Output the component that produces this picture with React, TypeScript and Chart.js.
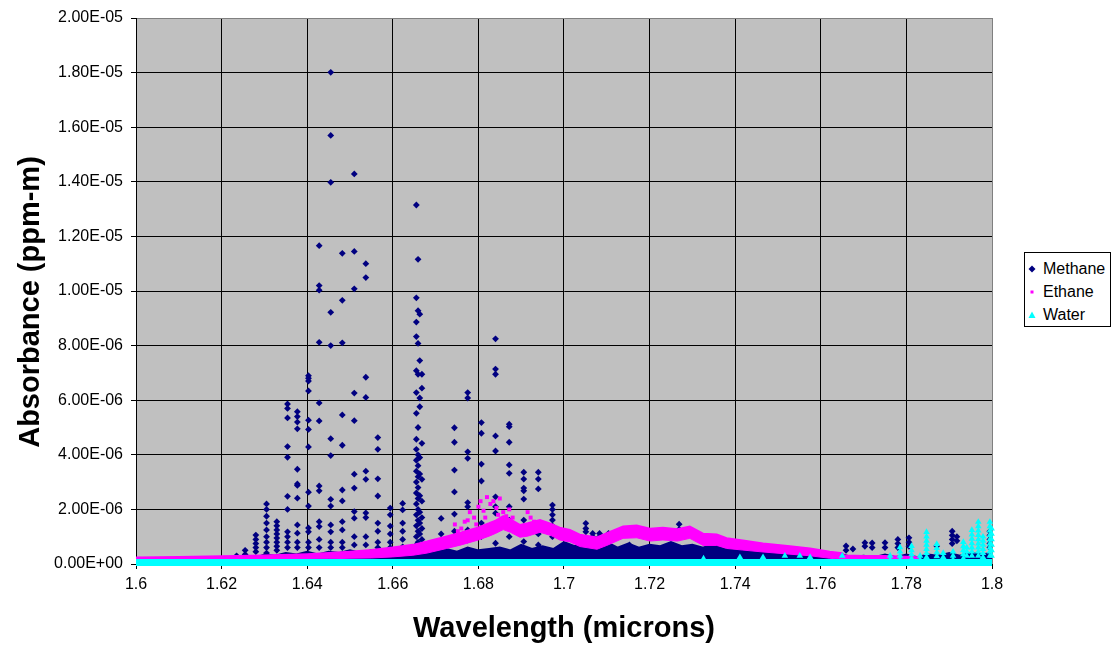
import React, { useEffect, useRef } from 'react';
import { Chart, registerables } from 'chart.js';

Chart.register(...registerables);

// ---------- axis ticks ----------
const xTickValues = [1.6, 1.62, 1.64, 1.66, 1.68, 1.7, 1.72, 1.74, 1.76, 1.78, 1.8];
const xTickLabels = ['1.6', '1.62', '1.64', '1.66', '1.68', '1.7', '1.72', '1.74', '1.76', '1.78', '1.8'];
// y values are in units of 1E-06
const yTickValues = [0, 2, 4, 6, 8, 10, 12, 14, 16, 18, 20];
const yTickLabels = ['0.00E+00', '2.00E-06', '4.00E-06', '6.00E-06', '8.00E-06', '1.00E-05', '1.20E-05', '1.40E-05', '1.60E-05', '1.80E-05', '2.00E-05'];

const xTitle = 'Wavelength (microns)';
const yTitle = 'Absorbance (ppm-m)';
const seriesNames = ['Methane', 'Ethane', 'Water'];

// ---------- Methane: individual line markers (wavelength, stacked absorbances x1E-06) ----------
const methaneLineWl = [
  1.6235, 1.6255, 1.6280, 1.6305, 1.6329, 1.6354, 1.6377, 1.6403, 1.6428, 1.6455, 1.6482, 1.6510, 1.6537, 1.6565, 1.6594, 1.6623,
  1.6655, 1.6659, 1.6663, 1.6668,
  1.6713, 1.6744, 1.6775, 1.6807, 1.6840, 1.6872, 1.6906, 1.6940, 1.6973,
  1.7051, 1.7067, 1.7083, 1.7104, 1.7153, 1.7269,
  1.7659, 1.7675, 1.7703, 1.7720, 1.7750, 1.7780, 1.7806, 1.7871, 1.7907, 1.7918, 1.7995,
];
const methaneLineAbs = [
  [0.3, 0.2],
  [0.5, 0.35],
  [1.06, 0.9, 0.75, 0.6, 0.45],
  [2.2, 2.0, 1.75, 1.5, 1.25, 1.0, 0.8, 0.6, 0.4],
  [1.55, 1.4, 1.25, 1.1, 0.95, 0.8, 0.65, 0.5],
  [5.86, 5.7, 5.35, 4.3, 3.91, 2.48, 2.0, 1.18, 1.0, 0.8, 0.6],
  [5.58, 5.4, 5.2, 4.95, 3.47, 2.93, 2.88, 2.41, 1.43, 1.13, 0.8, 0.6],
  [6.9, 6.8, 6.7, 6.34, 5.27, 4.93, 4.29, 2.63, 2.12, 1.32, 1.18, 0.8, 0.6],
  [11.66, 10.2, 10.03, 8.12, 5.9, 5.24, 2.86, 2.68, 1.55, 1.37, 0.9, 0.6],
  [18.01, 15.7, 13.98, 9.22, 8.0, 4.59, 3.97, 2.37, 2.12, 1.43, 1.18, 0.8, 0.6],
  [11.38, 9.66, 8.1, 5.46, 4.35, 2.71, 2.31, 1.55, 1.25, 0.8, 0.6],
  [14.29, 11.45, 10.08, 6.26, 5.25, 3.29, 2.78, 1.92, 1.68, 1.0, 0.7],
  [11.0, 10.49, 6.84, 6.1, 3.4, 3.1, 1.87, 1.7, 1.0, 0.7],
  [4.63, 4.2, 3.12, 2.49, 1.5, 1.2, 0.8, 0.6],
  [2.05, 1.8, 1.39, 1.1, 0.8, 0.6],
  [2.22, 1.98, 1.5, 1.2, 0.9, 0.63],
  [13.15, 9.75, 8.86, 8.33, 7.08, 6.28, 5.52, 4.57, 4.2, 3.8, 3.4, 3.0, 2.6, 2.2, 1.8, 1.4, 1.0, 0.7],
  [11.16, 9.28, 8.08, 6.95, 5.0, 4.0, 3.6, 3.2, 2.8, 2.4, 2.0, 1.6, 1.2, 0.8],
  [9.15, 7.45, 6.08, 5.76, 3.9, 3.3, 2.5, 1.9, 1.5, 1.1],
  [6.95, 6.44, 4.42, 3.1, 2.3, 1.7, 1.3, 0.9],
  [1.67, 1.1, 0.7],
  [4.99, 4.46, 3.44, 2.64, 1.83, 1.2, 0.8],
  [6.28, 6.08, 4.11, 3.87, 2.25, 2.1, 1.25, 0.88],
  [5.18, 4.79, 3.66, 3.04, 1.5, 1.0],
  [8.25, 7.14, 6.95, 4.69, 4.14, 2.46, 2.1, 1.86, 0.76],
  [5.12, 5.03, 4.46, 3.63, 3.32, 2.1, 1.61, 1.0],
  [3.36, 3.11, 2.78, 2.68, 2.38, 1.61, 1.37, 0.82],
  [3.36, 3.11, 2.75, 1.37, 1.1, 0.7],
  [2.16, 2.0, 1.8, 1.61, 1.4, 1.2, 1.0],
  [1.49, 1.3, 1.18],
  [1.12, 1.0],
  [1.12, 1.0],
  [1.12],
  [0.7, 0.57],
  [1.46, 1.27],
  [0.66, 0.5],
  [0.55],
  [0.78, 0.65],
  [0.77, 0.6],
  [0.78, 0.6],
  [0.9, 0.75, 0.6],
  [0.96, 0.8, 0.65],
  [0.66],
  [1.2, 1.05, 0.9, 0.75],
  [1.0, 0.85],
  [1.2, 1.05, 0.9, 0.75, 0.6],
];

// ---------- Methane: dense low-level envelope (x1E-06) ----------
const methaneBaseWl = [
  1.600, 1.610, 1.615, 1.620, 1.6225, 1.625, 1.6275, 1.630, 1.6325, 1.635, 1.6375, 1.640, 1.6425, 1.645, 1.6475,
  1.650, 1.6525, 1.655, 1.6575, 1.660, 1.6625, 1.665, 1.6675, 1.670, 1.6725, 1.675, 1.6775, 1.680, 1.6825, 1.685,
  1.6875, 1.690, 1.6925, 1.695, 1.6975, 1.700, 1.7025, 1.705, 1.7075, 1.710, 1.7125, 1.715, 1.7175, 1.720, 1.7225,
  1.725, 1.7275, 1.730, 1.7325, 1.735, 1.7375, 1.740, 1.7425, 1.745, 1.7475, 1.750, 1.7525, 1.755, 1.7575, 1.760,
  1.7625, 1.765, 1.7675, 1.770, 1.7725, 1.775, 1.7775, 1.780, 1.7825, 1.785, 1.7875, 1.790, 1.7925, 1.795, 1.7975, 1.800,
];
const methaneBaseAbs = [
  0.00, 0.02, 0.05, 0.10, 0.15, 0.25, 0.20, 0.35, 0.30, 0.40, 0.35, 0.45, 0.35, 0.45, 0.40,
  0.50, 0.40, 0.50, 0.40, 0.50, 0.45, 0.60, 0.50, 0.45, 0.55, 0.45, 0.60, 0.50, 0.55, 0.60,
  0.50, 0.70, 0.55, 0.65, 0.55, 0.80, 0.65, 0.85, 0.70, 0.80, 0.60, 0.75, 0.60, 0.70, 0.65,
  0.80, 0.65, 0.70, 0.60, 0.75, 0.55, 0.60, 0.50, 0.55, 0.45, 0.55, 0.40, 0.50, 0.35, 0.40,
  0.30, 0.35, 0.25, 0.30, 0.25, 0.35, 0.25, 0.35, 0.25, 0.35, 0.30, 0.40, 0.30, 0.40, 0.35, 0.40,
];

// ---------- Ethane: band (lower / upper edges, x1E-06) ----------
const ethaneWl = [
  1.600, 1.610, 1.620, 1.630, 1.640, 1.645, 1.650, 1.655, 1.660, 1.6647, 1.668, 1.6726, 1.676, 1.680, 1.6825,
  1.684, 1.6858, 1.6875, 1.6897, 1.6915, 1.6944, 1.697, 1.699, 1.7014, 1.7037, 1.7077, 1.710, 1.7138, 1.717,
  1.7201, 1.7231, 1.7265, 1.7294, 1.7325, 1.7357, 1.738, 1.7418, 1.7465, 1.7528, 1.7575, 1.7621, 1.765, 1.7655,
  1.770, 1.775, 1.7832,
];
const ethaneLow = [
  0.12, 0.13, 0.14, 0.16, 0.18, 0.19, 0.21, 0.22, 0.26, 0.32, 0.40, 0.57, 0.70, 0.88, 1.02,
  1.12, 1.26, 1.16, 0.98, 1.02, 1.16, 1.04, 0.88, 0.81, 0.64, 0.54, 0.68, 0.94, 0.96,
  0.84, 0.88, 0.84, 0.94, 0.68, 0.68, 0.57, 0.51, 0.44, 0.36, 0.30, 0.21, 0.17, 0.14,
  0.13, 0.13, 0.12,
];
const ethaneHigh = [
  0.25, 0.27, 0.29, 0.32, 0.37, 0.41, 0.46, 0.52, 0.61, 0.71, 0.83, 1.02, 1.16, 1.35, 1.50,
  1.60, 1.76, 1.64, 1.44, 1.50, 1.62, 1.48, 1.34, 1.26, 1.08, 0.98, 1.14, 1.38, 1.42,
  1.30, 1.34, 1.28, 1.38, 1.12, 1.09, 0.95, 0.87, 0.76, 0.66, 0.58, 0.46, 0.40, 0.32,
  0.30, 0.30, 0.26,
];
// Ethane: scattered markers above the band
const ethanePointWl = [
  1.6745, 1.6752, 1.6760, 1.6768, 1.6775, 1.6780, 1.6790, 1.6795, 1.6800, 1.6805, 1.6812, 1.6816, 1.6820, 1.6828,
  1.6835, 1.6842, 1.6846, 1.6850, 1.6858, 1.6865, 1.6872, 1.6880, 1.6915, 1.6922, 1.6930,
];
const ethanePointAbs = [
  1.45, 1.20, 1.30, 1.55, 1.60, 1.90, 1.70, 1.45, 2.10, 2.30, 1.95, 1.70, 2.45, 2.20,
  2.30, 2.05, 1.80, 2.40, 1.90, 1.75, 2.00, 1.70, 1.90, 1.70, 1.55,
];

// ---------- Water: baseline and spikes (x1E-06) ----------
const waterBaseWl = [1.6, 1.8];
const waterBaseAbs = [0.055, 0.055];
const waterSpikeWl = [1.7326, 1.7411, 1.7465, 1.7516, 1.7551, 1.7575, 1.7650, 1.7762, 1.7785, 1.7812, 1.7832, 1.7847, 1.7871, 1.7886, 1.7909, 1.7933, 1.7941, 1.7953, 1.7968, 1.7979, 1.7995, 1.7999];
const waterSpikeAbs = [
  [0.2], [0.25], [0.25], [0.3], [0.3], [0.25], [0.3], [0.3, 0.15],
  [0.61, 0.45, 0.3, 0.15], [0.66, 0.5, 0.35, 0.2], [0.3, 0.15], [1.17, 1.0, 0.85, 0.7, 0.55, 0.4, 0.25],
  [0.73, 0.58, 0.43, 0.28], [0.4, 0.25], [0.45, 0.3, 0.15], [0.8, 0.65, 0.5, 0.35, 0.2], [0.6, 0.45, 0.3],
  [1.24, 1.08, 0.92, 0.76, 0.6, 0.45, 0.3], [1.54, 1.38, 1.22, 1.06, 0.9, 0.75, 0.6, 0.45, 0.3],
  [1.0, 0.85, 0.7, 0.55, 0.4, 0.25],
  [1.54, 1.38, 1.22, 1.06, 0.9, 0.75, 0.6, 0.45, 0.3], [1.3, 1.1, 0.9, 0.7, 0.5, 0.3],
];

const METHANE_COLOR = '#000080';
const ETHANE_COLOR = '#FF00FF';
const WATER_COLOR = '#00FFFF';
const FONT = '"Liberation Sans", Arial, sans-serif';

const stacks = (wl: number[], abs: number[][]) =>
  wl.flatMap((w, i) => abs[i].map((a) => ({ x: w, y: a })));
const pairs = (wl: number[], abs: number[]) => wl.map((w, i) => ({ x: w, y: abs[i] }));

const plotBackground = {
  id: 'plotBackground',
  beforeDraw(chart: any) {
    const { ctx, chartArea: a } = chart;
    ctx.save();
    ctx.fillStyle = '#C0C0C0';
    ctx.fillRect(a.left, a.top, a.right - a.left, a.bottom - a.top);
    ctx.restore();
  },
};

const axisTitles = {
  id: 'axisTitles',
  afterDraw(chart: any) {
    const { ctx, chartArea: a } = chart;
    ctx.save();
    ctx.fillStyle = '#000';
    ctx.font = `bold 29px ${FONT}`;
    ctx.textAlign = 'center';
    ctx.textBaseline = 'middle';
    ctx.fillText(xTitle, (a.left + a.right) / 2, a.bottom + 65);
    ctx.translate(a.left - 105, (a.top + a.bottom) / 2 + 11);
    ctx.rotate(-Math.PI / 2);
    ctx.fillText(yTitle, 0, 0);
    ctx.restore();
  },
};

function LegendMarker({ kind }: { kind: number }) {
  if (kind === 0)
    return (
      <svg width="8" height="8" style={{ display: 'block' }}>
        <polygon points="4,0.5 7.5,4 4,7.5 0.5,4" fill={METHANE_COLOR} />
      </svg>
    );
  if (kind === 1)
    return (
      <svg width="8" height="8" style={{ display: 'block' }}>
        <rect x="2.5" y="2.5" width="3" height="3" fill={ETHANE_COLOR} />
      </svg>
    );
  return (
    <svg width="8" height="8" style={{ display: 'block' }}>
      <polygon points="4,0.5 7.5,7 0.5,7" fill={WATER_COLOR} />
    </svg>
  );
}

export default function App() {
  const ref = useRef<HTMLCanvasElement>(null);

  useEffect(() => {
    if (!ref.current) return;
    const chart = new Chart(ref.current, {
      type: 'line',
      data: {
        datasets: [
          {
            label: seriesNames[0],
            data: stacks(methaneLineWl, methaneLineAbs),
            showLine: false,
            pointStyle: 'rectRot',
            pointRadius: 3.4,
            pointBackgroundColor: METHANE_COLOR,
            pointBorderColor: METHANE_COLOR,
            pointBorderWidth: 0,
            order: 3,
          },
          {
            label: seriesNames[0] + ' base',
            data: pairs(methaneBaseWl, methaneBaseAbs),
            borderColor: METHANE_COLOR,
            backgroundColor: METHANE_COLOR,
            borderWidth: 2,
            pointRadius: 0,
            fill: 'origin',
            tension: 0,
            order: 4,
          },
          {
            label: seriesNames[1] + ' low',
            data: pairs(ethaneWl, ethaneLow),
            borderColor: ETHANE_COLOR,
            borderWidth: 1,
            pointRadius: 0,
            fill: false,
            tension: 0,
            order: 2,
          },
          {
            label: seriesNames[1] + ' high',
            data: pairs(ethaneWl, ethaneHigh),
            borderColor: ETHANE_COLOR,
            backgroundColor: ETHANE_COLOR,
            borderWidth: 1.5,
            pointRadius: 0,
            fill: '-1',
            tension: 0,
            order: 2,
          },
          {
            label: seriesNames[1],
            data: pairs(ethanePointWl, ethanePointAbs),
            showLine: false,
            pointStyle: 'rect',
            pointRadius: 2.8,
            pointBackgroundColor: ETHANE_COLOR,
            pointBorderWidth: 0,
            order: 1,
          },
          {
            label: seriesNames[2] + ' base',
            data: pairs(waterBaseWl, waterBaseAbs),
            borderColor: WATER_COLOR,
            borderWidth: 7,
            borderCapStyle: 'butt',
            pointRadius: 0,
            fill: false,
            clip: false,
            order: 0,
          },
          {
            label: seriesNames[2],
            data: stacks(waterSpikeWl, waterSpikeAbs),
            showLine: false,
            pointStyle: 'triangle',
            pointRadius: 3.8,
            pointBackgroundColor: WATER_COLOR,
            pointBorderColor: WATER_COLOR,
            pointBorderWidth: 0,
            clip: false,
            order: 0,
          },
        ],
      },
      options: {
        animation: false,
        responsive: false,
        maintainAspectRatio: false,
        devicePixelRatio: 1,
        events: [],
        layout: { padding: { left: 0, top: 18, right: 120, bottom: 0 } },
        font: { family: FONT, size: 16 },
        plugins: {
          legend: { display: false },
          tooltip: { enabled: false },
        },
        scales: {
          x: {
            type: 'linear',
            min: 1.6,
            max: 1.8,
            afterBuildTicks: (s: any) => {
              s.ticks = xTickValues.map((v) => ({ value: v }));
            },
            afterFit: (s: any) => {
              s.height = 82;
            },
            ticks: {
              color: '#000',
              font: { family: FONT, size: 16 },
              padding: 6,
              maxRotation: 0,
              autoSkip: false,
              callback: (_v: any, i: number) => xTickLabels[i],
            },
            grid: {
              color: (c: any) => (c.tick && c.tick.value === 1.8 ? '#808080' : '#000000'),
              tickColor: '#000000',
              lineWidth: 1,
              tickLength: 5,
            },
            border: { display: true, color: '#000', width: 1 },
          },
          y: {
            type: 'linear',
            min: 0,
            max: 20,
            afterBuildTicks: (s: any) => {
              s.ticks = yTickValues.map((v) => ({ value: v }));
            },
            afterFit: (s: any) => {
              s.width = 136;
            },
            ticks: {
              color: '#000',
              font: { family: FONT, size: 16 },
              padding: 8,
              autoSkip: false,
              callback: (_v: any, i: number) => yTickLabels[i],
            },
            grid: {
              color: (c: any) => (c.tick && c.tick.value === 20 ? '#808080' : '#000000'),
              tickColor: '#000000',
              lineWidth: 1,
              tickLength: 5,
            },
            border: { display: true, color: '#000', width: 1 },
          },
        },
      },
      plugins: [plotBackground, axisTitles],
    } as any);
    return () => chart.destroy();
  }, []);

  const rowCenters = [16, 39, 62];

  return (
    <div style={{ position: 'fixed', left: 0, top: 0, width: 1112, height: 646, background: '#fff', overflow: 'hidden' }}>
      <canvas ref={ref} width={1112} height={646} style={{ display: 'block', width: 1112, height: 646 }} />
      <div
        style={{
          position: 'absolute',
          left: 1024,
          top: 252,
          width: 87,
          height: 75,
          border: '1px solid #000',
          boxSizing: 'border-box',
          background: '#fff',
          fontFamily: FONT,
          fontSize: 16,
          color: '#000',
        }}
      >
        {seriesNames.map((name, i) => (
          <div
            key={name}
            style={{
              position: 'absolute',
              left: 0,
              top: rowCenters[i] - 10,
              height: 20,
              display: 'flex',
              alignItems: 'center',
              whiteSpace: 'nowrap',
            }}
          >
            <div style={{ width: 8, marginLeft: 3 }}>
              <LegendMarker kind={i} />
            </div>
            <span style={{ marginLeft: 7, lineHeight: '20px' }}>{name}</span>
          </div>
        ))}
      </div>
    </div>
  );
}
